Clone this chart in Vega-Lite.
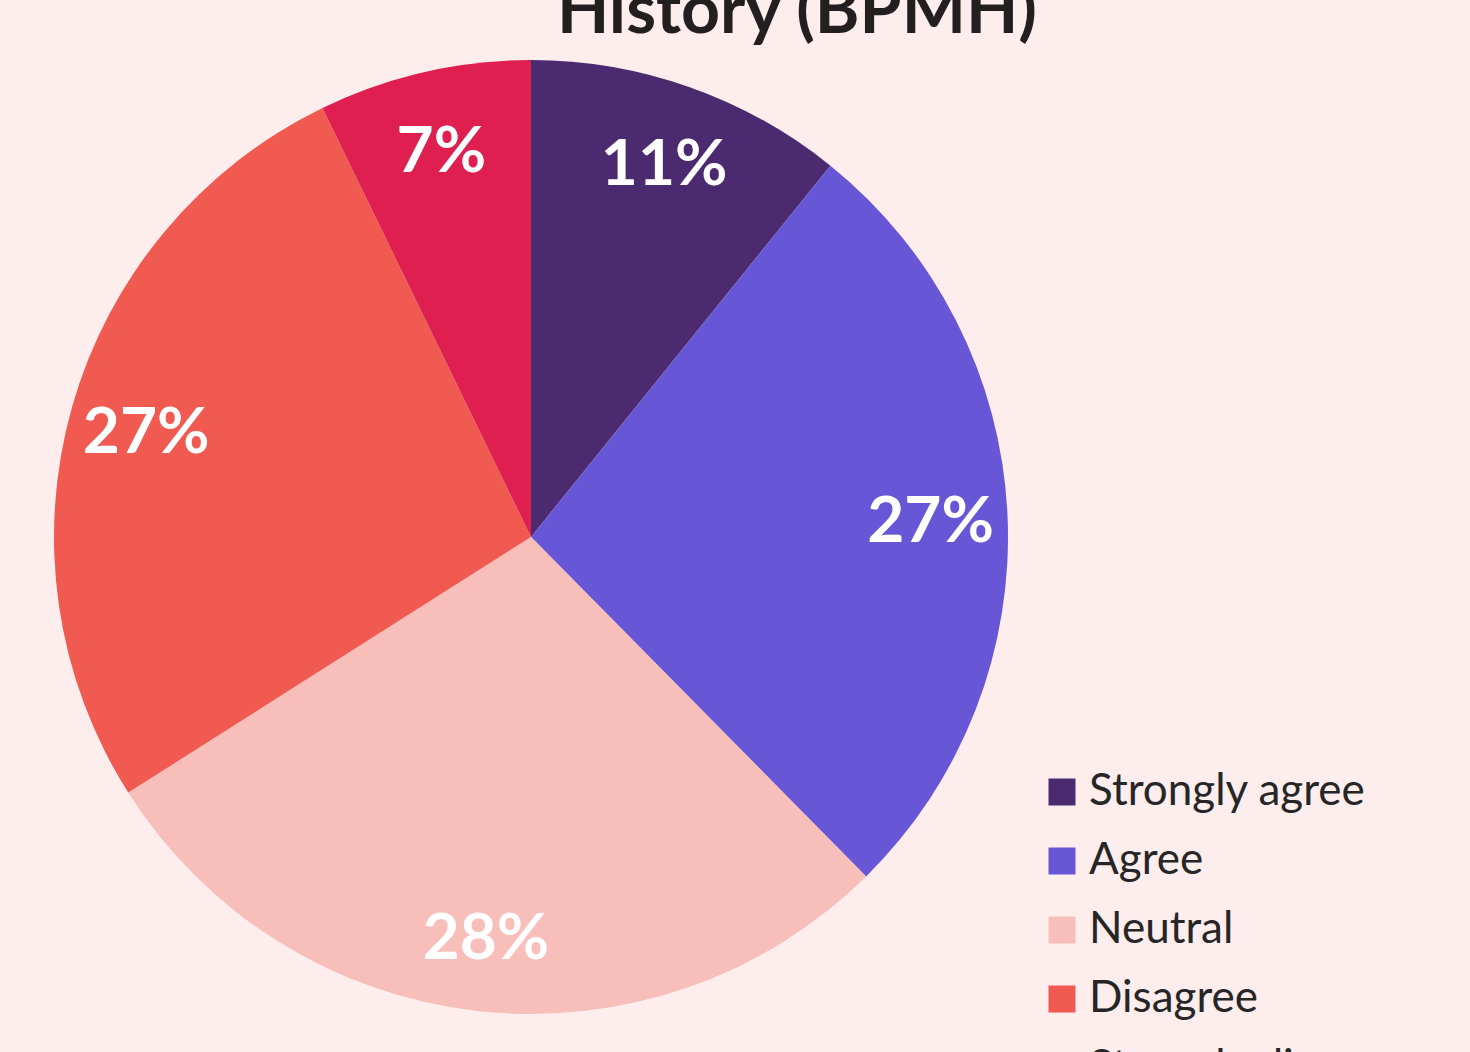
{
  "$schema": "https://vega.github.io/schema/vega-lite/v6.json",
  "width": 1062,
  "height": 1074,
  "autosize": {"type": "none"},
  "padding": {"left": 0, "top": 0, "right": 408, "bottom": 0},
  "background": "#FDEDED",
  "view": {"stroke": null},
  "title": {
    "text": "History (BPMH)",
    "font": "Lato",
    "fontSize": 68,
    "fontWeight": "bold",
    "color": "#231F20",
    "anchor": "middle",
    "frame": "group",
    "baseline": "alphabetic",
    "offset": -101,
    "dx": 266
  },
  "data": {
    "values": [
      {"response": "Strongly agree", "share": 0.108, "rank": 1},
      {"response": "Agree", "share": 0.268, "rank": 2},
      {"response": "Neutral", "share": 0.284, "rank": 3},
      {"response": "Disagree", "share": 0.268, "rank": 4},
      {"response": "Strongly disagree", "share": 0.072, "rank": 5}
    ]
  },
  "encoding": {
    "theta": {"field": "share", "type": "quantitative", "stack": true},
    "order": {"field": "rank", "type": "ordinal"},
    "color": {
      "field": "response",
      "type": "nominal",
      "sort": ["Strongly agree", "Agree", "Neutral", "Disagree", "Strongly disagree"],
      "scale": {
        "domain": ["Strongly agree", "Agree", "Neutral", "Disagree", "Strongly disagree"],
        "range": ["#4B2A6F", "#6757D6", "#F7BEBA", "#F05A50", "#DE1F50"]
      },
      "legend": {
        "orient": "none",
        "legendX": 1040,
        "legendY": 770,
        "title": null,
        "symbolType": "square",
        "symbolSize": 729,
        "symbolStrokeWidth": 0,
        "symbolOpacity": 1,
        "labelFont": "Lato",
        "labelFontSize": 44,
        "labelColor": "#262626",
        "labelOffset": 5,
        "rowPadding": 25,
        "labelLimit": 600
      }
    }
  },
  "layer": [
    {"mark": {"type": "arc", "outerRadius": 477}},
    {
      "mark": {
        "type": "text",
        "radius": 400,
        "font": "Lato",
        "fontSize": 64,
        "fontWeight": "bold",
        "baseline": "middle",
        "align": "center",
        "dy": 6
      },
      "encoding": {
        "text": {"field": "share", "type": "quantitative", "format": ".0%"},
        "color": {"value": "white"}
      }
    }
  ]
}
